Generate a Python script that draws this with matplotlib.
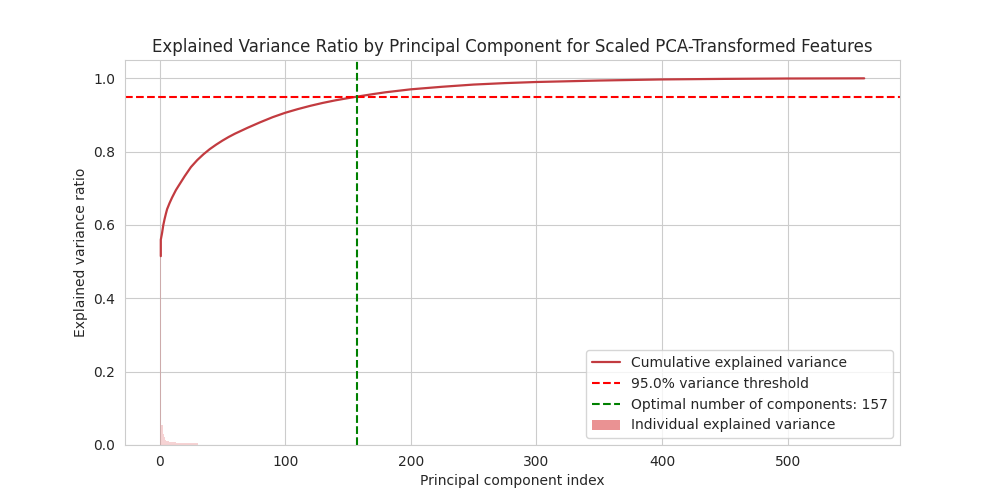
import matplotlib
matplotlib.use("Agg")
import matplotlib.pyplot as plt
import seaborn as sns
import numpy as np

sns.set_style("whitegrid")

# Cumulative explained variance read at sampled component indices
cum_components = [1, 1, 2, 3, 4, 5, 6, 8, 10, 13, 15, 20, 25, 30, 35, 40, 45, 50, 55, 60,
                  65, 70, 80, 90, 100, 110, 120, 130, 140, 150, 157, 170, 180, 190, 200,
                  225, 250, 275, 300, 350, 400, 450, 500, 561]
cum_values = [0.515, 0.560, 0.578, 0.600, 0.616, 0.630, 0.643, 0.660, 0.675, 0.695, 0.706,
              0.733, 0.758, 0.777, 0.793, 0.807, 0.819, 0.830, 0.840, 0.849,
              0.857, 0.865, 0.880, 0.894, 0.906, 0.916, 0.925, 0.933, 0.940, 0.946, 0.950,
              0.957, 0.962, 0.966, 0.970, 0.977, 0.983, 0.987, 0.990, 0.994, 0.997,
              0.9985, 0.9995, 1.0]

# Individual explained variance for the visible leading components
ind_components = list(range(1, 31))
ind_values = [0.515, 0.054, 0.029, 0.022, 0.015, 0.011, 0.010, 0.0095, 0.009, 0.0085,
              0.008, 0.0075, 0.007, 0.0068, 0.0065, 0.0062, 0.006, 0.0058, 0.0056, 0.0054,
              0.0052, 0.005, 0.0049, 0.0048, 0.0047, 0.0046, 0.0045, 0.0044, 0.0043, 0.0042]
n_total = 561
threshold = 0.95
optimal = 157

fig, ax = plt.subplots(figsize=(10, 5), dpi=100)
bars = ax.bar(ind_components, ind_values, width=1.0, color='#d62728', alpha=0.2,
              linewidth=0, label='Individual explained variance')
ax.plot(cum_components, cum_values, color='#c23b40', linewidth=1.6,
        label='Cumulative explained variance')
ax.axhline(threshold, color='red', linestyle='--', linewidth=1.5,
           label=f'{threshold*100:.1f}% variance threshold')
ax.axvline(optimal, color='green', linestyle='--', linewidth=1.5,
           label=f'Optimal number of components: {optimal}')
ax.set_xlim(-27.5, n_total + 28.5)
ax.set_ylim(0, 1.05)
ax.set_xlabel('Principal component index')
ax.set_ylabel('Explained variance ratio')
ax.set_title('Explained Variance Ratio by Principal Component for Scaled PCA-Transformed Features')
handles, labels = ax.get_legend_handles_labels()
order = [labels.index(l) for l in ['Cumulative explained variance',
                                   f'{threshold*100:.1f}% variance threshold',
                                   f'Optimal number of components: {optimal}',
                                   'Individual explained variance']]
leg = ax.legend([handles[i] for i in order], [labels[i] for i in order], loc='lower right')
leg.legend_handles[3].set_alpha(0.5)
fig.savefig('out.png', dpi=100)
